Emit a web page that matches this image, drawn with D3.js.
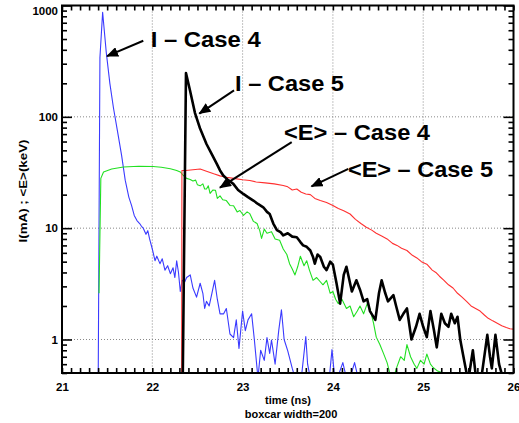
<!DOCTYPE html>
<html><head><meta charset="utf-8">
<script src="https://cdn.jsdelivr.net/npm/d3@7"></script>
<style>body{margin:0;background:#fff;}svg{display:block;}</style>
</head><body><svg id="c" width="519" height="423"></svg>
<script>
// ---- data ----
const xTicks = [21, 22, 23, 24, 25, 26];
const yTicks = [1, 10, 100, 1000];
const xTitle = "time (ns)";
const xSub = "boxcar width=200";
const yTitle = "I(mA) ; <E>(keV)";

// I - Case 4 (blue): [time ns, value]
const blueI4 = [[21.40,0.3],[21.42,340],[21.45,870],[21.49,380],[21.53,200],[21.57,120],[21.62,70],[21.66,45],[21.70,27],[21.74,19],[21.77,16],[21.80,13],[21.83,11.7],[21.86,11],[21.88,10.4],[21.90,10],[21.93,8.8],[21.95,9.5],[21.97,8],[22.00,6.5],[22.03,5.1],[22.05,5.6],[22.085,4.8],[22.11,5.3],[22.14,4.2],[22.17,4.6],[22.20,3.9],[22.23,4.4],[22.25,3.6],[22.27,5.1],[22.29,4.0],[22.31,2.7],[22.33,3.4],[22.36,3.3],[22.38,3.6],[22.42,3.8],[22.45,2.9],[22.49,2.4],[22.53,3.2],[22.56,2.6],[22.58,1.9],[22.60,2.2],[22.63,2.0],[22.66,2.6],[22.69,3.4],[22.72,2.3],[22.75,1.7],[22.79,1.7],[22.82,1.9],[22.86,1.12],[22.90,1.04],[22.93,1.5],[22.96,0.83],[23.00,1.8],[23.03,1.2],[23.06,1.5],[23.10,1.7],[23.13,1.0],[23.17,0.45],[23.20,0.8],[23.24,0.65],[23.27,1.04],[23.30,0.75],[23.32,0.99],[23.36,0.6],[23.40,1.2],[23.43,1.85],[23.46,1.0],[23.50,0.79],[23.55,0.55],[23.60,0.4],[23.65,0.45],[23.70,1.06],[23.72,0.6],[23.75,0.45],[23.80,0.5],[23.85,0.4],[23.90,0.48],[23.96,0.45],[23.99,0.81],[24.02,0.45],[24.07,0.5],[24.11,0.62],[24.15,0.45],[24.20,0.48],[24.24,0.62],[24.28,0.45],[24.35,0.4],[24.50,0.4],[24.80,0.45],[24.85,0.3],[25.20,0.3]];

// <E> - Case 4 (green)
const greenE4 = [[21.41,2.6],[21.43,28],[21.46,32],[21.55,34],[21.68,35.4],[21.85,36],[22.01,35.8],[22.10,35.2],[22.20,34.2],[22.27,33],[22.31,32],[22.34,30],[22.38,28],[22.42,27.4],[22.45,26.5],[22.48,27],[22.50,24.5],[22.53,24],[22.56,25],[22.58,22.5],[22.60,22.5],[22.62,24],[22.64,20.5],[22.67,22],[22.70,21.9],[22.72,18.5],[22.75,19.5],[22.78,18],[22.82,17.7],[22.86,16],[22.90,15.9],[22.94,14],[22.97,14.4],[23.01,13],[23.05,14],[23.08,13.5],[23.12,11.5],[23.16,11],[23.19,9.5],[23.21,8.1],[23.24,9.8],[23.27,9],[23.32,9.3],[23.36,8],[23.41,7.8],[23.45,6.5],[23.49,5.8],[23.52,4.8],[23.55,4.3],[23.58,3.8],[23.61,4.5],[23.64,5.6],[23.68,4.6],[23.71,5.1],[23.74,4.2],[23.78,3.4],[23.82,3.6],[23.86,3.3],[23.89,3.1],[23.93,3.4],[23.97,2.6],[24.00,2.7],[24.03,2.3],[24.06,2.1],[24.10,2.3],[24.15,1.9],[24.19,2.0],[24.23,1.6],[24.27,1.8],[24.30,2.0],[24.34,1.7],[24.38,2.1],[24.41,1.9],[24.45,1.4],[24.48,1.05],[24.52,0.9],[24.56,0.75],[24.60,0.62],[24.63,0.5],[24.67,0.45],[24.71,0.57],[24.75,0.7],[24.79,0.65],[24.82,0.9],[24.86,0.7],[24.90,0.6],[24.93,0.55],[24.97,0.65],[25.01,0.6],[25.04,0.74],[25.08,0.6],[25.11,0.56],[25.16,0.52],[25.22,0.5],[25.27,0.4]];

// I - Case 5 (black)
const blackI5 = [[22.335,0.3],[22.373,247],[22.417,173],[22.473,108],[22.528,79],[22.60,57],[22.66,46],[22.713,38],[22.75,33],[22.786,29.7],[22.84,27],[22.897,25],[22.95,22],[23.008,20.3],[23.06,19],[23.119,17.7],[23.17,16.5],[23.229,15.4],[23.27,14],[23.30,13.4],[23.34,11],[23.38,9.6],[23.42,9.2],[23.45,8.6],[23.50,9.0],[23.55,8.4],[23.60,8.3],[23.64,7.5],[23.67,7.0],[23.71,6.8],[23.75,6.3],[23.78,5.5],[23.80,4.8],[23.83,5.8],[23.86,5.5],[23.90,4.5],[23.93,4.2],[23.97,5.0],[24.00,4.7],[24.04,3.2],[24.08,2.1],[24.12,3.8],[24.15,4.5],[24.18,3.5],[24.21,2.7],[24.26,3.4],[24.30,2.8],[24.34,2.2],[24.38,2.3],[24.41,1.8],[24.47,1.5],[24.51,2.6],[24.54,3.4],[24.58,2.6],[24.61,2.2],[24.67,2.5],[24.70,2.0],[24.74,1.5],[24.78,1.7],[24.82,1.9],[24.87,1.0],[24.92,1.3],[24.96,1.7],[25.00,1.3],[25.04,1.05],[25.08,1.8],[25.12,1.2],[25.15,0.85],[25.20,1.7],[25.24,1.4],[25.28,1.3],[25.31,1.7],[25.35,1.4],[25.38,1.6],[25.41,1.0],[25.44,0.74],[25.48,0.5],[25.51,0.49],[25.55,0.8],[25.58,0.49],[25.62,0.49],[25.65,0.49],[25.71,1.1],[25.74,0.7],[25.76,0.55],[25.80,1.1],[25.84,0.6],[25.87,0.49],[25.92,0.49]];

// <E> - Case 5 (red)
const redE5 = [[22.325,0.3],[22.328,33],[22.37,33],[22.45,33.5],[22.53,34],[22.60,32.5],[22.68,30.8],[22.75,29.5],[22.82,28.7],[22.90,28],[23.00,27.2],[23.08,26.8],[23.15,26],[23.25,25.5],[23.35,25],[23.45,24.2],[23.50,23.5],[23.55,22],[23.60,22.5],[23.65,21],[23.70,20.3],[23.75,20],[23.80,18.5],[23.86,17.7],[23.93,17],[24.00,16],[24.06,15],[24.12,14.3],[24.19,13.4],[24.25,12],[24.31,11],[24.37,10.2],[24.43,9.6],[24.48,9],[24.54,8.5],[24.60,8],[24.66,7.3],[24.71,7],[24.76,6.6],[24.82,6.3],[24.88,5.7],[24.93,5.4],[24.98,5],[25.04,4.75],[25.10,4.2],[25.14,4.0],[25.18,3.7],[25.23,3.4],[25.28,3.1],[25.33,2.9],[25.38,2.6],[25.43,2.4],[25.48,2.2],[25.53,2.0],[25.58,1.9],[25.63,1.8],[25.68,1.65],[25.72,1.55],[25.77,1.47],[25.82,1.4],[25.87,1.33],[25.92,1.28],[25.96,1.25],[26.0,1.24]];

// annotations: label text, label anchor [t, v], arrow start [t, v], arrow tip [t, v]
const annLabels = ["I \u2013 Case 4", "I \u2013 Case 5", "<E> \u2013 Case 4", "<E> \u2013 Case 5"];
const annLabelPos = [[21.993,425],[22.927,171],[23.470,61.4],[24.178,28.7]];
const annArrowFrom = [[21.900,482],[22.905,173],[23.544,59.3],[24.171,34.1]];
const annArrowTo = [[21.499,351],[22.521,107],[22.749,23.1],[23.763,23.7]];
const annWidths = [110, 109, 146, 145];

// ---- chart ----
const m = {l:62, r:513.5, t:5.5, b:373};
const svg = d3.select("#c");
const x = d3.scaleLinear().domain([21,26]).range([m.l,m.r]);
const y = d3.scaleLog().domain([0.5,1000]).range([m.b,m.t]);
const FONT = "'Liberation Sans', Arial, sans-serif";

svg.append("defs").append("clipPath").attr("id","clip")
  .append("rect").attr("x",m.l).attr("y",m.t).attr("width",m.r-m.l).attr("height",m.b-m.t);

// grid
const grid = svg.append("g").attr("stroke","#888").attr("stroke-width",1).attr("stroke-dasharray","1,2");
grid.selectAll("line.gx").data([22,23,24,25]).join("line")
  .attr("x1",d=>x(d)).attr("x2",d=>x(d)).attr("y1",m.t).attr("y2",m.b);
grid.selectAll("line.gy").data([1,10,100]).join("line")
  .attr("y1",d=>y(d)).attr("y2",d=>y(d)).attr("x1",m.l).attr("x2",m.r);

// series
const line = d3.line().x(d=>x(d[0])).y(d=>y(d[1]));
const plot = svg.append("g").attr("clip-path","url(#clip)");
plot.append("path").datum(blueI4).attr("d",line).attr("fill","none").attr("stroke","#3a3aff").attr("stroke-width",1.1).attr("stroke-linejoin","round");
plot.append("path").datum(greenE4).attr("d",line).attr("fill","none").attr("stroke","#22e022").attr("stroke-width",1.1).attr("stroke-linejoin","round");
plot.append("path").datum(redE5).attr("d",line).attr("fill","none").attr("stroke","#ff3030").attr("stroke-width",1.1).attr("stroke-linejoin","round");
plot.append("path").datum(blackI5).attr("d",line).attr("fill","none").attr("stroke","#000").attr("stroke-width",2.6).attr("stroke-linejoin","round");

// axes (inward ticks)
const xMinor = d3.range(210,261).map(d=>d/10);
const yMinor = [];
[0.1,1,10,100].forEach(b=>{for(let k=2;k<=9;k++){const v=b*k; if(v>=0.5 && v<1000) yMinor.push(v);}});

function styleAxis(g){ g.select(".domain").remove(); g.selectAll("line").attr("stroke","#000").attr("stroke-width",1.6); }
svg.append("g").attr("transform",`translate(0,${m.b})`)
  .call(d3.axisBottom(x).tickValues(xMinor).tickSize(-5).tickFormat("")).call(styleAxis);
svg.append("g").attr("transform",`translate(0,${m.t})`)
  .call(d3.axisTop(x).tickValues(xMinor).tickSize(-5).tickFormat("")).call(styleAxis);
const xl = svg.append("g").attr("transform",`translate(0,${m.b})`)
  .call(d3.axisBottom(x).tickValues(xTicks).tickSize(0).tickPadding(10).tickFormat(d3.format("d"))).call(styleAxis);
xl.selectAll("text").attr("font-family",FONT).attr("font-weight","bold").attr("font-size",11.5).attr("fill","#000");

svg.append("g").attr("transform",`translate(${m.l},0)`)
  .call(d3.axisLeft(y).tickValues(yMinor).tickSize(-5).tickFormat("")).call(styleAxis);
svg.append("g").attr("transform",`translate(${m.r},0)`)
  .call(d3.axisRight(y).tickValues(yMinor).tickSize(-5).tickFormat("")).call(styleAxis);
const yl = svg.append("g").attr("transform",`translate(${m.l},0)`)
  .call(d3.axisLeft(y).tickValues(yTicks).tickSize(-10).tickPadding(4).tickFormat(d3.format("d"))).call(styleAxis);
yl.selectAll("text").attr("font-family",FONT).attr("font-weight","bold").attr("font-size",11.5).attr("fill","#000");
yl.selectAll("text").filter(d=>d===1000).attr("dy","0.75em");
svg.append("g").attr("transform",`translate(${m.r},0)`)
  .call(d3.axisRight(y).tickValues(yTicks).tickSize(-10).tickFormat("")).call(styleAxis);

// frame
svg.append("rect").attr("x",m.l).attr("y",m.t).attr("width",m.r-m.l).attr("height",m.b-m.t)
  .attr("fill","none").attr("stroke","#000").attr("stroke-width",2);

// axis titles
svg.append("text").attr("x",288).attr("y",404).attr("text-anchor","middle")
  .attr("font-family",FONT).attr("font-weight","bold").attr("font-size",11).text(xTitle);
svg.append("text").attr("x",291).attr("y",418).attr("text-anchor","middle")
  .attr("font-family",FONT).attr("font-weight","bold").attr("font-size",11).text(xSub);
svg.append("text").attr("transform","translate(27,191) rotate(-90)").attr("text-anchor","middle")
  .attr("font-family",FONT).attr("font-weight","bold").attr("font-size",11)
  .attr("textLength",103).attr("lengthAdjust","spacingAndGlyphs").text(yTitle);

// annotations
svg.select("defs").append("marker").attr("id","ah").attr("markerUnits","userSpaceOnUse")
  .attr("markerWidth",12).attr("markerHeight",10).attr("refX",11).attr("refY",5).attr("orient","auto")
  .append("path").attr("d","M0,0 L12,5 L0,10 Z").attr("fill","#000");
annLabels.forEach((t,i)=>{
  svg.append("line")
    .attr("x1",x(annArrowFrom[i][0])).attr("y1",y(annArrowFrom[i][1]))
    .attr("x2",x(annArrowTo[i][0])).attr("y2",y(annArrowTo[i][1]))
    .attr("stroke","#000").attr("stroke-width",2).attr("marker-end","url(#ah)");
  svg.append("text").attr("x",x(annLabelPos[i][0])-1).attr("y",y(annLabelPos[i][1]))
    .attr("font-family",FONT).attr("font-weight","bold").attr("font-size",22)
    .attr("textLength",annWidths[i]).attr("lengthAdjust","spacingAndGlyphs").text(t);
});
</script></body></html>
